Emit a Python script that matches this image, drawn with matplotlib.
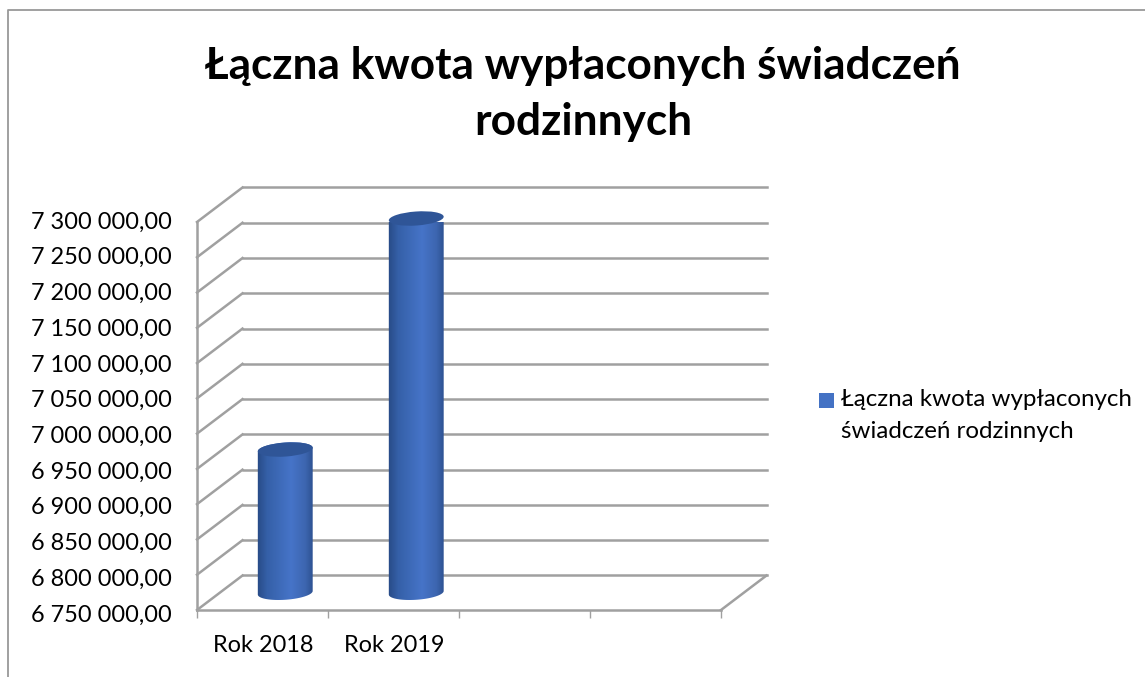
#!/usr/bin/env python3
import numpy as np
import matplotlib
matplotlib.use('Agg')
import matplotlib.pyplot as plt
from matplotlib.colors import LinearSegmentedColormap
from matplotlib.patches import Ellipse, Rectangle
from matplotlib.path import Path
from matplotlib.transforms import Affine2D, IdentityTransform

plt.rcParams['font.family'] = ['Lato', 'DejaVu Sans']

title_lines = ['Łączna kwota wypłaconych świadczeń', 'rodzinnych']
legend_lines = ['Łączna kwota wypłaconych', 'świadczeń rodzinnych']
categories = ['Rok 2018', 'Rok 2019']
values = [6953000, 7280500]
n_slots = 4
y_ticks = [6750000, 6800000, 6850000, 6900000, 6950000, 7000000,
           7050000, 7100000, 7150000, 7200000, 7250000, 7300000]

W, H = 1145, 677
DX, DY = 45.5, 34.5   # depth of the fake 3d box, pixels
BAR_W = 55
CAP_H = 14
TILT = 4
GRID = '#a0a0a0'
LW = 1.8
LABEL_SIZE = 16.9

fig = plt.figure(figsize=(W / 100, H / 100), dpi=100, facecolor='white')
ax = fig.add_axes([197 / W, 1 - 610 / H, (721 - 197) / W, (610 - 222) / H])
ax.set_xlim(0, n_slots)
ax.set_ylim(y_ticks[0], y_ticks[-1])
ax.patch.set_visible(False)
for name, sp in ax.spines.items():
    sp.set_visible(name in ('left', 'bottom'))
    sp.set_color(GRID)
    sp.set_linewidth(LW)

ax.set_yticks(y_ticks)
ax.set_yticklabels([f'{v:,.2f}'.replace(',', ' ').replace('.', ',') for v in y_ticks])
ax.tick_params(axis='y', length=0, pad=18, labelsize=LABEL_SIZE, labelcolor='black')
# the labels sit on a slightly wider scale than the grid
for k, lbl in enumerate(ax.get_yticklabels()):
    dy = -3 + 5 * k / (len(y_ticks) - 1)
    lbl.set_transform(lbl.get_transform() + Affine2D().translate(0, dy))
ax.set_xticks(range(n_slots + 1))
ax.set_xticklabels([])
ax.tick_params(axis='x', length=6, width=1, color=GRID)
for i, cat in enumerate(categories):
    ax.annotate(cat, (i + 0.5, y_ticks[0]), xytext=(1, -25), textcoords='offset pixels',
                ha='center', va='top', fontsize=LABEL_SIZE, color='black', annotation_clip=False)

depth = Affine2D().translate(DX, DY)
half = Affine2D().translate(DX / 2, DY / 2)
back = ax.transData + depth

# walls: horizontal line on the back wall, diagonal on the side wall
for v in y_ticks:
    ax.plot([0, n_slots], [v, v], color=GRID, lw=LW, transform=back, clip_on=False, zorder=1)
    x0, y0 = ax.transData.transform((0, v))
    ax.plot([x0, x0 + DX], [y0, y0 + DY], color=GRID, lw=LW,
            transform=IdentityTransform(), clip_on=False, zorder=1)
# right edge of floor
x0, y0 = ax.transData.transform((n_slots, y_ticks[0]))
ax.plot([x0, x0 + DX], [y0, y0 + DY], color=GRID, lw=LW,
        transform=IdentityTransform(), clip_on=False, zorder=1)

cmap = LinearSegmentedColormap.from_list('cyl', [(0, '#274a85'), (0.18, '#3560a8'),
                                                 (0.6, '#4674c8'), (0.85, '#3d66b0'),
                                                 (1, '#2b4f8e')])
grad = np.linspace(0, 1, 256).reshape(1, -1)
t = np.radians(TILT)


def cap_points(cx, cy, a):
    # points on a tilted ellipse, a runs in radians
    ex = BAR_W / 2 * np.cos(a)
    ey = CAP_H / 2 * np.sin(a)
    return cx + ex * np.cos(t) - ey * np.sin(t), cy + ex * np.sin(t) + ey * np.cos(t)


for i, v in enumerate(values):
    xb, yb = (ax.transData + half).transform((i + 0.5, y_ticks[0]))
    xt, yt = (ax.transData + half).transform((i + 0.5, v))
    bx, by = cap_points(xb, yb, np.linspace(np.pi, 2 * np.pi, 40))
    tx, ty = cap_points(xt, yt, np.linspace(0, np.pi, 40))
    verts = np.column_stack([np.r_[bx, tx], np.r_[by, ty]])
    verts = np.vstack([verts, verts[0]])
    inv = ax.transData.inverted()
    im = ax.imshow(grad, cmap=cmap, aspect='auto', zorder=3, interpolation='bilinear',
                   extent=(inv.transform((xb - BAR_W / 2 - 1, 0))[0],
                           inv.transform((xb + BAR_W / 2 + 1, 0))[0],
                           y_ticks[0] - 60000, v + 60000))
    im.set_clip_path(Path(verts), transform=IdentityTransform())
    ax.add_patch(Ellipse((xt, yt), BAR_W, CAP_H, angle=TILT, facecolor='#2f5597',
                         edgecolor='none', transform=IdentityTransform(), zorder=4, clip_on=False))
ax.set_xlim(0, n_slots)
ax.set_ylim(y_ticks[0], y_ticks[-1])

# chart title
fig.text(583 / W, 1 - 66 / H, title_lines[0], ha='center', va='center',
         fontsize=31.8, fontweight='bold', color='black')
fig.text(583 / W, 1 - 122 / H, title_lines[1], ha='center', va='center',
         fontsize=31.8, fontweight='bold', color='black')

# legend
fig.add_artist(Rectangle((819 / W, 1 - 408 / H), 15 / W, 15 / H, facecolor='#4472c4',
                         edgecolor='none', transform=fig.transFigure))
fig.text(841 / W, 1 - 400 / H, legend_lines[0], ha='left', va='center', fontsize=17.4)
fig.text(841 / W, 1 - 431 / H, legend_lines[1], ha='left', va='center', fontsize=17.4)

# outer frame of the chart, open at the bottom and right
fig.add_artist(plt.Line2D([7.5 / W, 7.5 / W, 1], [0, 1 - 9.5 / H, 1 - 9.5 / H], color='#999999',
                          lw=1.3, transform=fig.transFigure))

fig.savefig('out.png', dpi=100)
